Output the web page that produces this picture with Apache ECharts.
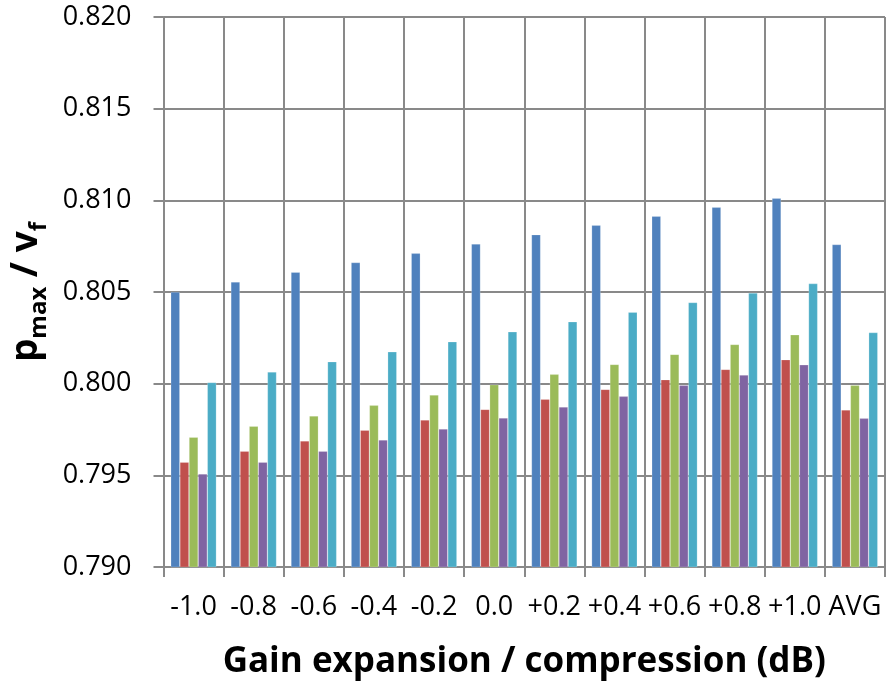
<!DOCTYPE html>
<html><head><meta charset="utf-8">
<script src="https://cdn.jsdelivr.net/npm/echarts@6/dist/echarts.min.js"></script>
<style>html,body{margin:0;padding:0;background:#fff}#c{width:886px;height:685px}</style>
</head><body><div id="c"></div>
<script>
const categories = ['-1.0','-0.8','-0.6','-0.4','-0.2','0.0','+0.2','+0.4','+0.6','+0.8','+1.0','AVG'];
const seriesBlue   = [0.8050,0.80555,0.80608,0.80661,0.80711,0.80762,0.80813,0.80864,0.80913,0.80962,0.81011,0.80759];
const seriesRed    = [0.79572,0.79632,0.79688,0.79746,0.79802,0.7986,0.79915,0.79969,0.80022,0.80078,0.80131,0.79857];
const seriesGreen  = [0.79708,0.79768,0.79824,0.79882,0.79938,0.79995,0.80051,0.80105,0.8016,0.80214,0.80267,0.79991];
const seriesPurple = [0.79508,0.79572,0.79632,0.79693,0.79753,0.79813,0.79873,0.79931,0.79991,0.80047,0.80103,0.79811];
const seriesCyan   = [0.80007,0.80064,0.8012,0.80174,0.80229,0.80283,0.80338,0.8039,0.80443,0.80495,0.80546,0.80279];
const yTicks = ['0.790','0.795','0.800','0.805','0.810','0.815','0.820'];

const colors = ['#4F81BD','#C0504D','#9BBB59','#8064A2','#4BACC6'];
const allSeries = [seriesBlue, seriesRed, seriesGreen, seriesPurple, seriesCyan];
const gridColor = '#898989';

const chart = echarts.init(document.getElementById('c'), null, {renderer:'canvas'});
chart.setOption({
  animation: false,
  backgroundColor: '#fff',
  grid: {left: 155, right: 1, top: 17, bottom: 116, containLabel: false},
  xAxis: {
    type: 'category',
    data: categories,
    boundaryGap: true,
    name: 'Gain expansion / compression (dB)',
    nameLocation: 'middle',
    nameGap: 78,
    nameTextStyle: {fontFamily: 'Open Sans', fontWeight: 'bold', fontSize: 35, color: '#000'},
    axisLine: {show: true, lineStyle: {color: gridColor, width: 2}},
    axisTick: {show: true, length: 10, lineStyle: {color: gridColor, width: 2}},
    axisLabel: {fontFamily: 'Open Sans', fontSize: 27, color: '#000', margin: 27, interval: 0},
    splitLine: {show: true, lineStyle: {color: gridColor, width: 2}}
  },
  yAxis: {
    type: 'value',
    min: 0.790, max: 0.820, interval: 0.005,
    name: '{a|p}{s|max}{a| / v}{s|f}',
    nameLocation: 'middle',
    nameGap: 112,
    nameTextStyle: {
      rich: {
        a: {fontFamily: 'Open Sans', fontWeight: 'bold', fontSize: 37, color: '#000', verticalAlign: 'middle', lineHeight: 50},
        s: {fontFamily: 'Open Sans', fontWeight: 'bold', fontSize: 24, color: '#000', verticalAlign: 'bottom', lineHeight: 22}
      }
    },
    axisLine: {show: true, lineStyle: {color: gridColor, width: 2}},
    axisTick: {show: true, length: 10, lineStyle: {color: gridColor, width: 2}},
    axisLabel: {fontFamily: 'Open Sans', fontSize: 27, color: '#000', margin: 32,
      formatter: (v) => yTicks.find(t => Math.abs(parseFloat(t) - v) < 1e-6) || v.toFixed(3)},
    splitLine: {show: true, lineStyle: {color: gridColor, width: 2}}
  },
  series: allSeries.map((d, i) => ({
    type: 'bar',
    data: d,
    barGap: '0%',
    barCategoryGap: '24%',
    itemStyle: {color: colors[i], borderColor: 'rgba(255,255,255,0.35)', borderWidth: 0.6},
    silent: true
  }))
});
</script>
</body></html>
